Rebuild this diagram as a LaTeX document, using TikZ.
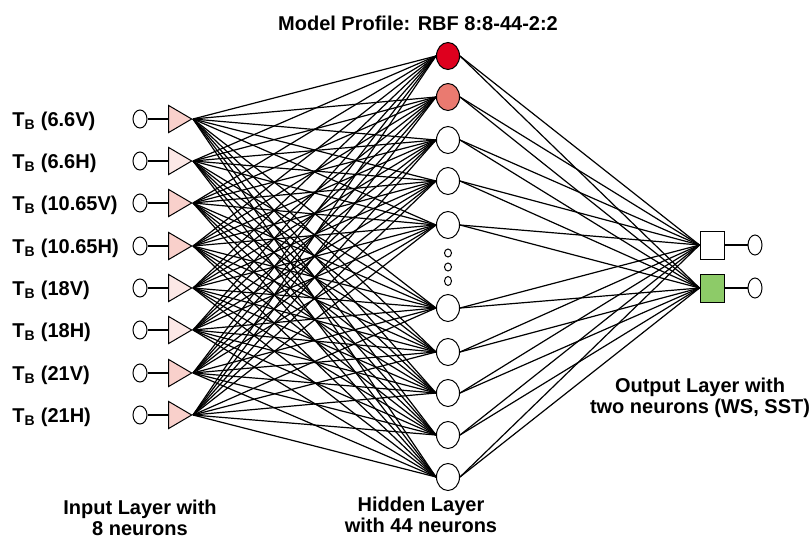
\documentclass[tikz,border=0pt]{standalone}
\usepackage{fontspec}
\setmainfont{Liberation Sans}
\usetikzlibrary{shapes.geometric}
\definecolor{pkA}{RGB}{249,208,203}
\definecolor{pkB}{RGB}{252,232,230}
\definecolor{hotred}{RGB}{222,0,30}
\definecolor{salmon}{RGB}{234,122,112}
\definecolor{leaf}{RGB}{141,203,104}
\tikzset{
  % an input terminal
  term/.style  = {draw, ellipse, inner sep=0pt, minimum width=14pt, minimum height=18pt},
  % an input neuron
  tri/.style   = {draw, isosceles triangle, isosceles triangle stretches,
                  inner sep=0pt, minimum width=27pt, minimum height=23pt},
  % a hidden neuron
  hid/.style   = {draw, ellipse, inner sep=0pt, minimum width=23pt, minimum height=27pt},
  % the "and so on" pips
  pip/.style   = {draw, ellipse, inner sep=0pt, minimum width=7pt, minimum height=8pt},
  % an output neuron
  osq/.style   = {draw, rectangle, inner sep=0pt, minimum width=24pt, minimum height=28pt},
  % a text
  txt/.style   = {font=\bfseries\fontsize{20}{21}\selectfont, inner sep=0pt, align=center},
  % a weight
  wt/.style    = {line width=1.2pt},
}

\begin{document}
\begin{tikzpicture}[x=1pt, y=-1pt, line width=1pt]
  \useasboundingbox (0,0) rectangle (812,541);
  \node[txt, anchor=base] (title) at (418,30) {Model Profile: RBF 8:8-44-2:2};
  % input layer
  \foreach \n/\y/\lab/\col in {1/119/6.6V/pkA, 2/161/6.6H/pkB, 3/203/10.65V/pkA,
      4/246/10.65H/pkA, 5/288/18V/pkB, 6/330/18H/pkB, 7/373/21V/pkA, 8/415/21H/pkA} {
    \node[txt, anchor=base west] (l\n) at (12,\y+7) {T\textsubscript{B} (\lab)};
    \node[term] (i\n) at (140,\y) {};
    \node[tri, fill=\col, anchor=apex] (t\n) at (193,\y) {};
    \draw[wt] (i\n) -- (t\n);
  }
  % hidden layer
  \foreach \n/\y/\col in {1/56/hotred, 2/97/salmon, 3/140/white, 4/181/white,
      5/225/white, 6/308/white, 7/352/white, 8/393/white, 9/435/white, 10/477/white}
    \node[hid, fill=\col] (h\n) at (448,\y) {};
  \node[pip] (p1) at (448,253) {};
  \node[pip] (p2) at (448,267) {};
  \node[pip, minimum height=9pt] (p3) at (448,281) {};
  % output layer
  \node[osq, fill=white] (o1) at (712,245) {};
  \node[osq, fill=leaf]  (o2) at (712,288) {};
  \node[term, minimum height=20pt] (y1) at (755,245) {};
  \node[term, minimum height=20pt] (y2) at (755,288) {};
  \draw[wt] (o1) -- (y1);
  \draw[wt] (o2) -- (y2);
  % weights
  \foreach \a in {1,...,8}
    \foreach \b in {1,...,10}
      \draw[wt] (t\a.apex) -- (h\b.west);
  \foreach \b in {1,...,10}
    \foreach \c in {1,2}
      \draw[wt] (h\b.east) -- (o\c.west);
  % captions
  \node[txt] (capin)  at (140,518) {Input Layer with\\8 neurons};
  \node[txt] (caphid) at (421,515) {Hidden Layer\\with 44 neurons};
  \node[txt] (capout) at (700,398) {Output Layer with\\two neurons (WS, SST)};
\end{tikzpicture}
\end{document}
